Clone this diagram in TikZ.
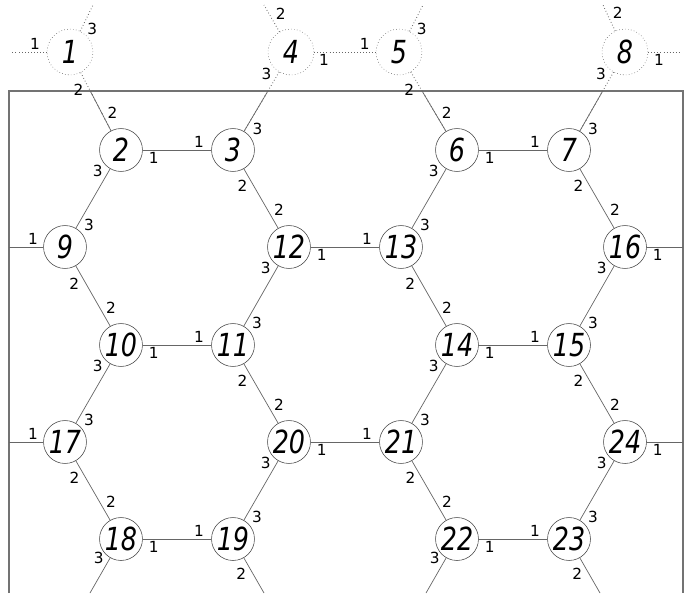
\documentclass[tikz,border=0pt]{standalone}
\usepackage{fontspec}
\newfontfamily\sitefont{DejaVu Sans}[FakeStretch=0.8]
\newfontfamily\portfont{DejaVu Sans}

\begin{document}
\begin{tikzpicture}[
    x=0.85pt, y=-0.85pt,
    site/.style={circle, draw=black!70, line width=0.5pt, minimum size=36.5pt, inner sep=0pt,
      font=\sitefont\itshape\fontsize{27}{27}\selectfont},
    ghost/.style={site, dotted, draw=black!60, minimum size=39pt},
    bond/.style={draw=black!60, line width=0.6pt},
    ghost bond/.style={bond, dotted, line width=0.8pt},
    port/.style={font=\portfont\fontsize{13}{13}\selectfont, inner sep=1.5pt},
    port a/.style={port, auto=right, pos=#1},
    port a/.default=0.16,
    port b/.style={port, auto=left, pos=#1},
    port b/.default=0.82,
  ]
  \useasboundingbox (0,0) rectangle (690,593);

  % Frame (open at the bottom)
  \draw[black!55, line width=1.3pt] (9,593) -- (9,91) -- (683,91) -- (683,593);

  % Ghost sites above the frame
  \node[ghost] (n1) at (70,52)  {1};
  \node[ghost] (n4) at (291,52) {4};
  \node[ghost] (n5) at (399,52) {5};
  \node[ghost] (n8) at (625,52) {8};

  % Row 1
  \node[site] (n2) at (121,150) {2};
  \node[site] (n3) at (233,150) {3};
  \node[site] (n6) at (457,150) {6};
  \node[site] (n7) at (569,150) {7};

  % Row 2
  \node[site] (n9)  at (65,247)  {9};
  \node[site] (n12) at (289,247) {12};
  \node[site] (n13) at (401,247) {13};
  \node[site] (n16) at (625,247) {16};

  % Row 3
  \node[site] (n10) at (121,345) {10};
  \node[site] (n11) at (233,345) {11};
  \node[site] (n14) at (457,345) {14};
  \node[site] (n15) at (569,345) {15};

  % Row 4
  \node[site] (n17) at (65,442)  {17};
  \node[site] (n20) at (289,442) {20};
  \node[site] (n21) at (401,442) {21};
  \node[site] (n24) at (625,442) {24};

  % Row 5
  \node[site] (n18) at (121,539) {18};
  \node[site] (n19) at (233,539) {19};
  \node[site] (n22) at (457,539) {22};
  \node[site] (n23) at (569,539) {23};

  % Loose ends
  \coordinate (e1w)  at (12,52);
  \coordinate (e1n)  at (93,5);
  \coordinate (e4n)  at (264,5);
  \coordinate (e5n)  at (423,5);
  \coordinate (e8n)  at (603,5);
  \coordinate (e8e)  at (680,52);
  \coordinate (e9w)  at (9,247);
  \coordinate (e17w) at (9,442);
  \coordinate (e16e) at (683,247);
  \coordinate (e24e) at (683,442);
  \coordinate (e18s) at (90,593);
  \coordinate (e19s) at (264,593);
  \coordinate (e22s) at (426,593);
  \coordinate (e23s) at (600,593);

  % Dotted bonds of the ghost sites
  \draw[ghost bond] (n1) -- node[port a=0.34] {1} (e1w);
  \draw[ghost bond] (n1) -- node[port a=0.38] {3} (e1n);
  \draw[ghost bond] (n4) -- node[port a=0.38] {2} (e4n);
  \draw[ghost bond] (n5) -- node[port a=0.38] {3} (e5n);
  \draw[ghost bond] (n8) -- node[port a=0.38] {2} (e8n);
  \draw[ghost bond] (n8) -- node[port a=0.34] {1} (e8e);
  \draw[ghost bond] (n4) -- node[port a] {1} node[port b] {1} (n5);
  \draw[ghost bond] (n1) -- node[port a] {2} node[port b] {2} (n2);
  \draw[ghost bond] (n4) -- node[port a] {3} node[port b] {3} (n3);
  \draw[ghost bond] (n5) -- node[port a] {2} node[port b] {2} (n6);
  \draw[ghost bond] (n8) -- node[port a] {3} node[port b] {3} (n7);

  % Same bonds, solid inside the frame
  \begin{scope}
    \clip (9,91) rectangle (683,593);
    \draw[bond] (n1) -- (n2);
    \draw[bond] (n4) -- (n3);
    \draw[bond] (n5) -- (n6);
    \draw[bond] (n8) -- (n7);
  \end{scope}

  % Bonds to the frame
  \draw[bond] (n9)  -- node[port a=0.3] {1} (e9w);
  \draw[bond] (n17) -- node[port a=0.3] {1} (e17w);
  \draw[bond] (n16) -- node[port a=0.3] {1} (e16e);
  \draw[bond] (n24) -- node[port a=0.3] {1} (e24e);
  \draw[bond] (n18) -- node[port a=0.22] {3} (e18s);
  \draw[bond] (n19) -- node[port a=0.22] {2} (e19s);
  \draw[bond] (n22) -- node[port a=0.22] {3} (e22s);
  \draw[bond] (n23) -- node[port a=0.22] {2} (e23s);

  % Port 1 bonds (horizontal)
  \draw[bond] (n2)  -- node[port a] {1} node[port b] {1} (n3);
  \draw[bond] (n6)  -- node[port a] {1} node[port b] {1} (n7);
  \draw[bond] (n12) -- node[port a] {1} node[port b] {1} (n13);
  \draw[bond] (n10) -- node[port a] {1} node[port b] {1} (n11);
  \draw[bond] (n14) -- node[port a] {1} node[port b] {1} (n15);
  \draw[bond] (n20) -- node[port a] {1} node[port b] {1} (n21);
  \draw[bond] (n18) -- node[port a] {1} node[port b] {1} (n19);
  \draw[bond] (n22) -- node[port a] {1} node[port b] {1} (n23);

  % Port 2 bonds
  \draw[bond] (n3)  -- node[port a] {2} node[port b] {2} (n12);
  \draw[bond] (n7)  -- node[port a] {2} node[port b] {2} (n16);
  \draw[bond] (n9)  -- node[port a] {2} node[port b] {2} (n10);
  \draw[bond] (n13) -- node[port a] {2} node[port b] {2} (n14);
  \draw[bond] (n11) -- node[port a] {2} node[port b] {2} (n20);
  \draw[bond] (n15) -- node[port a] {2} node[port b] {2} (n24);
  \draw[bond] (n17) -- node[port a] {2} node[port b] {2} (n18);
  \draw[bond] (n21) -- node[port a] {2} node[port b] {2} (n22);

  % Port 3 bonds
  \draw[bond] (n2)  -- node[port a] {3} node[port b] {3} (n9);
  \draw[bond] (n6)  -- node[port a] {3} node[port b] {3} (n13);
  \draw[bond] (n12) -- node[port a] {3} node[port b] {3} (n11);
  \draw[bond] (n16) -- node[port a] {3} node[port b] {3} (n15);
  \draw[bond] (n10) -- node[port a] {3} node[port b] {3} (n17);
  \draw[bond] (n14) -- node[port a] {3} node[port b] {3} (n21);
  \draw[bond] (n20) -- node[port a] {3} node[port b] {3} (n19);
  \draw[bond] (n24) -- node[port a] {3} node[port b] {3} (n23);

\end{tikzpicture}
\end{document}
